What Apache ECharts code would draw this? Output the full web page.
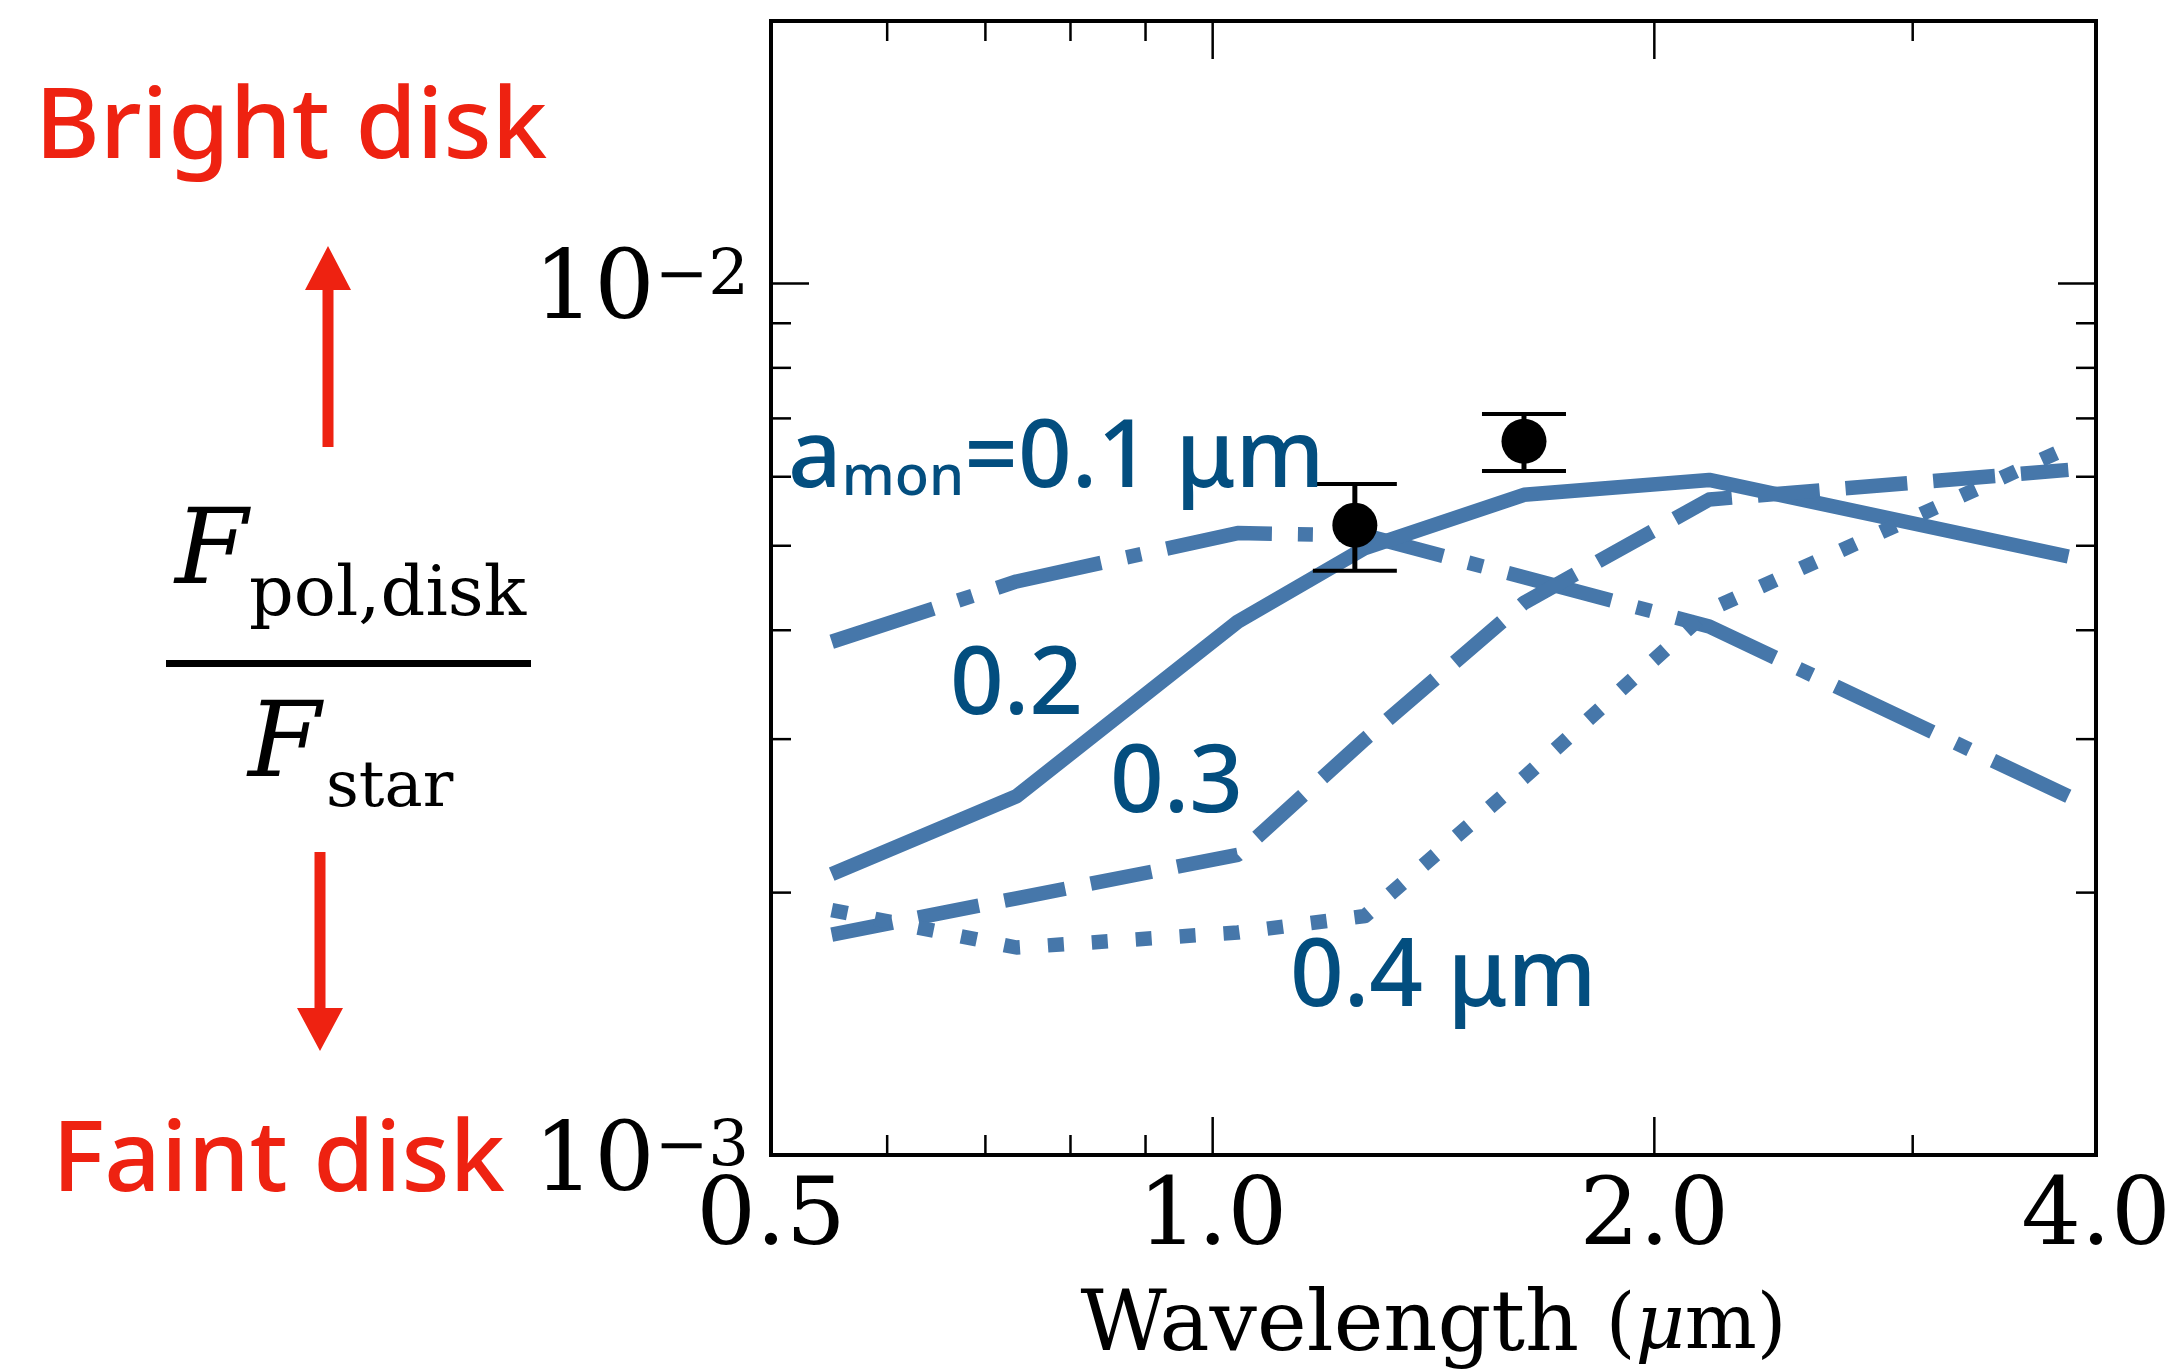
<!DOCTYPE html>
<html>
<head>
<meta charset="utf-8">
<script src="https://cdn.jsdelivr.net/npm/echarts@6/dist/echarts.min.js"></script>
<style>
html, body { margin: 0; padding: 0; background: #fff; }
#container { width: 2179px; height: 1369px; }
</style>
</head>
<body>
<div id="container"></div>
<script>
// model curves, one value per wavelength (micron)
var wavelength = [0.55, 0.735, 1.04, 1.27, 1.63, 2.18, 3.83];
var pol01 = [3.88e-3, 4.55e-3, 5.17e-3, 5.14e-3, 4.6e-3, 4.04e-3, 2.58e-3];
var pol02 = [2.1e-3, 2.58e-3, 4.09e-3, 4.97e-3, 5.72e-3, 5.95e-3, 4.86e-3];
var pol03 = [1.79e-3, 1.97e-3, 2.21e-3, 3.0e-3, 4.3e-3, 5.65e-3, 6.11e-3];
var pol04 = [1.91e-3, 1.73e-3, 1.8e-3, 1.88e-3, 2.71e-3, 4.22e-3, 6.48e-3];

// observed points with error bars
var obsWavelength = [1.25, 1.63];
var obsValue = [5.28e-3, 6.59e-3];
var obsLow = [4.68e-3, 6.09e-3];
var obsHigh = [5.885e-3, 7.08e-3];

var xRange = [0.5, 4.0];
var yRange = [1e-3, 2e-2];
var xMajorTicks = [1.0, 2.0];
var xMinorTicks = [0.6, 0.7, 0.8, 0.9, 3.0];
var yMajorTicks = [1e-2];
var yMinorTicks = [2e-3, 3e-3, 4e-3, 5e-3, 6e-3, 7e-3, 8e-3, 9e-3];

var lineBlue = "#4677aa";
var textBlue = "#034e7f";
var red = "#ee2211";
var serif = "DejaVu Serif";
var sans = "Noto Sans";

var dom = document.getElementById("container");
var myChart = echarts.init(dom, null, { renderer: "canvas" });

function pairs(ys) {
    return wavelength.map(function (x, i) {
        return [x, ys[i]];
    });
}

function curve(name, ys, dash) {
    return {
        name: name,
        type: "line",
        data: pairs(ys),
        symbol: "none",
        silent: true,
        z: 3,
        lineStyle: { color: lineBlue, width: 14.5, type: dash, cap: "butt", join: "round", opacity: 1 },
    };
}

// ticks drawn inside the frame on both sides
function tickSeries(values, dim, len) {
    return {
        type: "custom",
        silent: true,
        z: 5,
        data: values.map(function (v) {
            return dim === "x" ? [v, yRange[0]] : [xRange[0], v];
        }),
        renderItem: function (params, api) {
            var a, b, segs;
            if (dim === "x") {
                var vx = api.value(0);
                a = api.coord([vx, yRange[0]]);
                b = api.coord([vx, yRange[1]]);
                segs = [[a[0], a[1], a[0], a[1] - len], [b[0], b[1], b[0], b[1] + len]];
            } else {
                var vy = api.value(1);
                a = api.coord([xRange[0], vy]);
                b = api.coord([xRange[1], vy]);
                segs = [[a[0], a[1], a[0] + len, a[1]], [b[0], b[1], b[0] - len, b[1]]];
            }
            return {
                type: "group",
                children: segs.map(function (s) {
                    return {
                        type: "line",
                        shape: { x1: s[0], y1: s[1], x2: s[2], y2: s[3] },
                        style: { stroke: "#000", lineWidth: 2.5 },
                    };
                }),
            };
        },
    };
}

var option = {
    animation: false,
    backgroundColor: "#fff",
    grid: {
        left: 771,
        top: 21,
        width: 1325,
        height: 1134,
        show: true,
        borderColor: "#000",
        borderWidth: 4,
        outerBoundsMode: "none",
    },
    xAxis: {
        type: "log",
        logBase: 2,
        min: xRange[0],
        max: xRange[1],
        axisLine: { show: false },
        axisTick: { show: false },
        minorTick: { show: false },
        splitLine: { show: false },
        axisLabel: {
            margin: 18,
            color: "#000",
            fontFamily: serif,
            fontSize: 94,
            formatter: function (v) {
                return v.toFixed(1);
            },
        },
        name: "{w|Wavelength }{p|(}{mu|\u03bc}{p|m)}",
        nameLocation: "middle",
        nameGap: 131,
        nameTextStyle: {
            rich: {
                w: { fontFamily: serif, fontSize: 84, color: "#000" },
                p: { fontFamily: serif, fontSize: 76, color: "#000" },
                mu: { fontFamily: serif, fontSize: 76, fontStyle: "italic", color: "#000" },
            },
        },
    },
    yAxis: {
        type: "log",
        logBase: 10,
        min: yRange[0],
        max: yRange[1],
        axisLine: { show: false },
        axisTick: { show: false },
        minorTick: { show: false },
        splitLine: { show: false },
        axisLabel: {
            margin: 22,
            padding: [20, 0, 0, 0],
            formatter: function (v) {
                var e = Math.log10(v);
                var k = Math.round(e);
                if (Math.abs(e - k) > 1e-6) return "";
                return "{b|10}{s|" + (k < 0 ? "\u2212" : "") + Math.abs(k) + "}";
            },
            rich: {
                b: { fontFamily: serif, fontSize: 95, color: "#000" },
                s: { fontFamily: serif, fontSize: 64, color: "#000", verticalAlign: "top" },
            },
        },
    },
    series: [
        curve("0.1", pol01, [107, 26, 15, 26]),
        curve("0.2", pol02, "solid"),
        curve("0.3", pol03, [62, 26]),
        curve("0.4", pol04, [16, 28]),
        tickSeries(xMajorTicks, "x", 38),
        tickSeries(xMinorTicks, "x", 20),
        tickSeries(yMajorTicks, "y", 38),
        tickSeries(yMinorTicks, "y", 20),
        {
            type: "custom",
            silent: true,
            z: 6,
            data: obsWavelength.map(function (x, i) {
                return [x, obsLow[i], obsHigh[i]];
            }),
            encode: { x: 0, y: [1, 2] },
            renderItem: function (params, api) {
                var lo = api.coord([api.value(0), api.value(1)]);
                var hi = api.coord([api.value(0), api.value(2)]);
                var w = 42;
                return {
                    type: "group",
                    children: [
                        { type: "line", shape: { x1: lo[0], y1: lo[1], x2: hi[0], y2: hi[1] }, style: { stroke: "#000", lineWidth: 5 } },
                        { type: "line", shape: { x1: lo[0] - w, y1: lo[1], x2: lo[0] + w, y2: lo[1] }, style: { stroke: "#000", lineWidth: 4 } },
                        { type: "line", shape: { x1: hi[0] - w, y1: hi[1], x2: hi[0] + w, y2: hi[1] }, style: { stroke: "#000", lineWidth: 4 } },
                    ],
                };
            },
        },
        {
            type: "scatter",
            silent: true,
            z: 7,
            symbol: "circle",
            symbolSize: 45,
            itemStyle: { color: "#000", opacity: 1 },
            data: obsWavelength.map(function (x, i) {
                return [x, obsValue[i]];
            }),
        },
    ],
    graphic: [
        // left side annotation
        { type: "text", x: 35, y: 130, style: { text: "Bright disk", fill: red, fontFamily: sans, fontWeight: 500, fontSize: 99, verticalAlign: "middle" } },
        { type: "text", x: 52, y: 1163, style: { text: "Faint disk", fill: red, fontFamily: sans, fontWeight: 500, fontSize: 99, verticalAlign: "middle" } },
        { type: "polygon", shape: { points: [[328, 246], [351, 290], [333.5, 290], [333.5, 447], [322.5, 447], [322.5, 290], [305, 290]] }, style: { fill: red } },
        { type: "polygon", shape: { points: [[314.5, 852], [325.5, 852], [325.5, 1008], [343, 1008], [320, 1051], [297, 1008], [314.5, 1008]] }, style: { fill: red } },
        { type: "text", x: 175, y: 556, style: { text: "F", fill: "#000", fontFamily: serif, fontStyle: "italic", fontSize: 105, verticalAlign: "middle" } },
        { type: "text", x: 249, y: 597, style: { text: "pol,disk", fill: "#000", fontFamily: serif, fontSize: 70, verticalAlign: "middle" } },
        { type: "rect", shape: { x: 166, y: 660, width: 365, height: 7 }, style: { fill: "#000" } },
        { type: "text", x: 248, y: 749, style: { text: "F", fill: "#000", fontFamily: serif, fontStyle: "italic", fontSize: 105, verticalAlign: "middle" } },
        { type: "text", x: 326, y: 789, style: { text: "star", fill: "#000", fontFamily: serif, fontSize: 64, verticalAlign: "middle" } },
        // curve labels
        {
            type: "text", x: 788, y: 460, z: 10,
            style: {
                text: "{m|a}{s|mon}{m|=0.1 \u03bcm}",
                verticalAlign: "middle",
                rich: {
                    m: { fill: textBlue, fontFamily: sans, fontWeight: 500, fontSize: 94 },
                    s: { fill: textBlue, fontFamily: sans, fontWeight: 500, fontSize: 56, verticalAlign: "bottom" },
                },
            },
        },
        { type: "text", x: 950, y: 687, z: 10, style: { text: "0.2", fill: textBlue, fontFamily: sans, fontWeight: 500, fontSize: 94, verticalAlign: "middle" } },
        { type: "text", x: 1110, y: 785, z: 10, style: { text: "0.3", fill: textBlue, fontFamily: sans, fontWeight: 500, fontSize: 94, verticalAlign: "middle" } },
        { type: "text", x: 1290, y: 979, z: 10, style: { text: "0.4 \u03bcm", fill: textBlue, fontFamily: sans, fontWeight: 500, fontSize: 94, verticalAlign: "middle" } },
    ],
};

if (option && typeof option === "object") {
    myChart.setOption(option);
}
</script>
</body>
</html>
